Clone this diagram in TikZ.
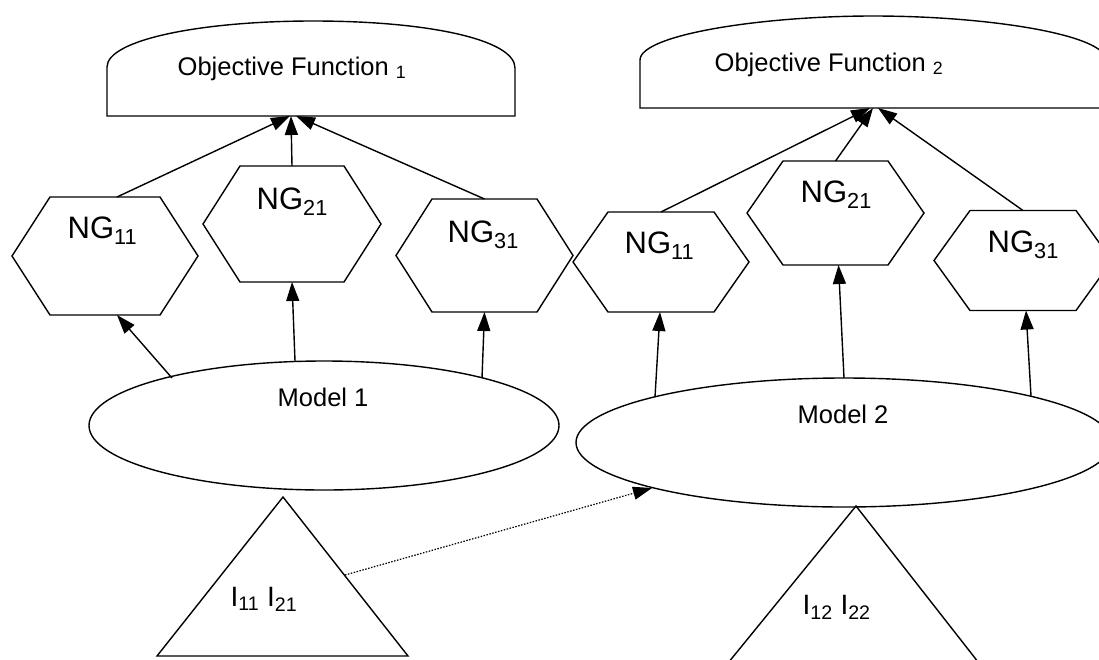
\documentclass[tikz,border=0pt]{standalone}
\usepackage{fontspec}
\setmainfont{Liberation Sans}
\usetikzlibrary{arrows.meta}
\usetikzlibrary{calc}

\begin{document}
\begin{tikzpicture}[x=1pt, y=-1pt, line width=1.4pt, line join=miter,
	toArr/.style={-{Triangle[length=19pt, width=13pt]}},
	dotArr/.style={-{Triangle[length=19pt, width=13pt]}, line width=1.2pt, dash pattern=on 1.5pt off 1.5pt},
	ofText/.style={inner sep=0pt, anchor=base west, font=\fontsize{25.5}{30}\selectfont},
	ngText/.style={inner sep=0pt, anchor=base west, font=\fontsize{31}{36}\selectfont},
	modelText/.style={inner sep=0pt, anchor=base west, font=\fontsize{25.5}{30}\selectfont},
	inText/.style={inner sep=0pt, anchor=base west, font=\fontsize{28}{32}\selectfont}]

	% page size, the picture is cut at right and bottom
	\useasboundingbox (0,0) rectangle (1099,659);
	\clip (0,0) rectangle (1099,659);

	% objective functions
	\draw (107,116) -- (107,67) .. controls (107,40) and (200,21) .. (313,21)
		.. controls (430,21) and (515,40) .. (515,68) -- (515,116) -- cycle;
	\draw (640,108) -- (640,60) .. controls (640,35) and (760,16) .. (873,16)
		.. controls (990,16) and (1106,35) .. (1106,60) -- (1106,108) -- cycle;
	\node[ofText] (of1Label) at (177,75) {Objective Function \textsubscript{1}};
	\node[ofText] (of2Label) at (714,71) {Objective Function \textsubscript{2}};
	% arrow ends on the objective functions
	\coordinate (of1a) at (290,116);
	\coordinate (of1b) at (291,116);
	\coordinate (of1c) at (296,116);
	\coordinate (of2a) at (870,108);
	\coordinate (of2b) at (873,108);
	\coordinate (of2c) at (878,108);

	% hexagons: name / centre / half width / half top edge / half height
	\foreach \n/\cx/\cy/\hw/\ew/\hh in {ngL11/105/256/93/55/59, ngL21/292/224/89/52/58,
		ngL31/484.5/255.5/88.5/52.5/56.5, ngR11/661/262/88/53/50,
		ngR21/835.5/213/88.5/52.5/52, ngR31/1023/260.5/89/53/50} {
		\coordinate (\n) at (\cx,\cy);
		\draw (\cx-\hw,\cy) -- (\cx-\ew,\cy-\hh) -- (\cx+\ew,\cy-\hh)
			-- (\cx+\hw,\cy) -- (\cx+\ew,\cy+\hh) -- (\cx-\ew,\cy+\hh) -- cycle;
		\coordinate (\n-t) at (\cx,\cy-\hh);
		\coordinate (\n-b) at (\cx,\cy+\hh);
	}
	\node[ngText] (ngL11Label) at (67,238) {NG\textsubscript{11}};
	\node[ngText] (ngL21Label) at (256,209) {NG\textsubscript{21}};
	\node[ngText] (ngL31Label) at (447,242) {NG\textsubscript{31}};
	\node[ngText] (ngR11Label) at (624,253) {NG\textsubscript{11}};
	\node[ngText] (ngR21Label) at (800,202) {NG\textsubscript{21}};
	\node[ngText] (ngR31Label) at (987,252) {NG\textsubscript{31}};
	% the first hexagon is joined off centre
	\coordinate (ngL11-t2) at ($(ngL11-t)+(12,0)$);
	\coordinate (ngL11-b2) at ($(ngL11-b)+(12,0)$);

	% hexagons to objective functions
	\draw[toArr] (ngL11-t2) -- (of1a);
	\draw[toArr] (ngL21-t) -- (of1b);
	\draw[toArr] (ngL31-t) -- (of1c);
	\draw[toArr] (ngR11-t) -- (of2a);
	\draw[toArr] (ngR21-t) -- (of2b);
	\draw[toArr] (ngR31-t) -- (of2c);

	% models
	\coordinate (model1) at (324,425.5);
	\coordinate (model2) at (844,442.5);
	\draw (model1) ellipse [x radius=235, y radius=64.5];
	\draw (model2) ellipse [x radius=268, y radius=64.5];
	\node[modelText] (model1Label) at (277,406) {Model 1};
	\node[modelText] (model2Label) at (797,423) {Model 2};
	% points on the models
	\coordinate (m1a) at (172,378);
	\coordinate (m1b) at (295,361);
	\coordinate (m1c) at (482,378);
	\coordinate (m2a) at (655,397);
	\coordinate (m2b) at (844,378);
	\coordinate (m2c) at (1031,396);
	\coordinate (m2in) at (652,488);

	% models to hexagons
	\draw[toArr] (m1a) -- (ngL11-b2);
	\draw[toArr] (m1b) -- (ngL21-b);
	\draw[toArr] (m1c) -- (ngL31-b);
	\draw[toArr] (m2a) -- ($(ngR11-b)+(-1,0)$);
	\draw[toArr] (m2b) -- ($(ngR21-b)+(3,0)$);
	\draw[toArr] (m2c) -- ($(ngR31-b)+(3,0)$);

	% inputs
	\coordinate (input1) at (283,497);
	\coordinate (input2) at (856,506);
	\draw (input1) -- (408,656) -- (157,656) -- cycle;
	\draw (input2) -- (1000,690) -- (706,690) -- cycle;
	\node[inText] (input1Label) at (230,606) {I\textsubscript{11} I\textsubscript{21}};
	\node[inText] (input2Label) at (802,614) {I\textsubscript{12} I\textsubscript{22}};
	\coordinate (in1out) at (345,575);

	% first input also feeds the second model
	\draw[dotArr] (in1out) -- (m2in);

\end{tikzpicture}
\end{document}
